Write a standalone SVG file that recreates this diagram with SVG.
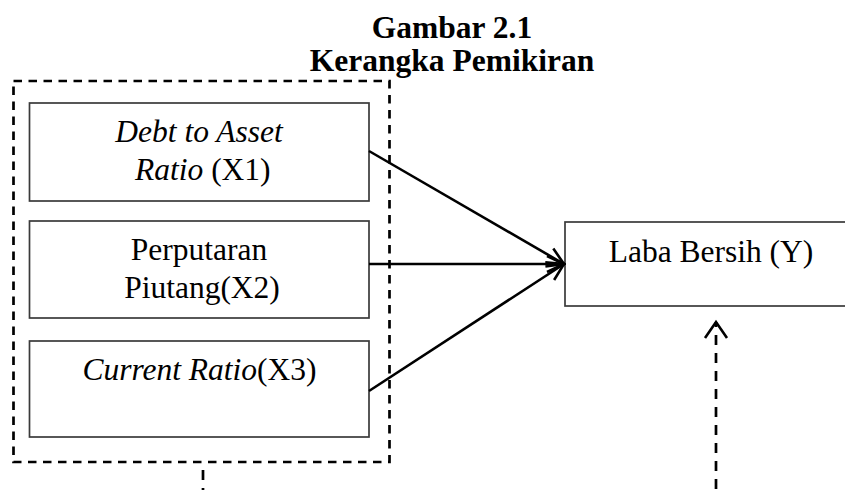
<svg xmlns="http://www.w3.org/2000/svg" width="845" height="490" viewBox="0 0 845 490">
<style>
.t{font-family:"Liberation Serif","Times New Roman",serif;font-size:31.5px;fill:#000}
.b{font-weight:bold}
.i{font-style:italic}
.box{fill:#fff;stroke:#3a3a3a;stroke-width:1.7}
.conn{stroke:#000;stroke-width:2.6;fill:none}
.dash{stroke:#000;stroke-width:2.7;fill:none;stroke-dasharray:8.5 6.5}
</style>
<defs>
<marker id="ah" markerUnits="userSpaceOnUse" viewBox="0 0 20 20" markerWidth="20" markerHeight="20" refX="18" refY="10" orient="auto">
<path d="M1,2 L18,10 L1,18" fill="none" stroke="#000" stroke-width="2.6"/>
</marker>
<marker id="ahd" markerUnits="userSpaceOnUse" viewBox="0 0 20 26" markerWidth="20" markerHeight="26" refX="17" refY="13" orient="auto-start-reverse">
<path d="M1,2 L17,13 L1,24" fill="none" stroke="#000" stroke-width="2.6"/>
</marker>
</defs>
<rect width="845" height="490" fill="#fff"/>
<g id="group-x">
<rect x="13.5" y="81" width="376" height="381" class="dash"/>
</g>
<g id="title">
<text class="t b" x="452" y="38" text-anchor="middle">Gambar 2.1</text>
<text class="t b" x="452" y="71" text-anchor="middle">Kerangka Pemikiran</text>
</g>
<g id="x1">
<rect class="box" x="29.5" y="103" width="339.5" height="98"/>
<text class="t" x="199" y="142" text-anchor="middle"><tspan class="i">Debt to Asset</tspan></text>
<text class="t" x="135" y="180"><tspan class="i">Ratio</tspan> (X1)</text>
</g>
<g id="x2">
<rect class="box" x="29.5" y="221" width="339.5" height="97"/>
<text class="t" x="199" y="260" text-anchor="middle">Perputaran</text>
<text class="t" x="202" y="298" text-anchor="middle">Piutang(X2)</text>
</g>
<g id="x3">
<rect class="box" x="29.5" y="341" width="339.5" height="96"/>
<text class="t" x="199.5" y="380" text-anchor="middle"><tspan class="i">Current Ratio</tspan>(X3)</text>
</g>
<g id="y">
<rect class="box" x="565" y="222" width="300" height="84"/>
<text class="t" x="711" y="262" text-anchor="middle">Laba Bersih (Y)</text>
</g>
<g id="connectors">
<line class="conn" x1="369" y1="151" x2="564" y2="264" marker-end="url(#ah)"/>
<line class="conn" x1="369" y1="264" x2="564" y2="264" marker-end="url(#ah)"/>
<line class="conn" x1="369" y1="391" x2="564" y2="264" marker-end="url(#ah)"/>
<line x1="716" y1="322" x2="716" y2="490" stroke="#000" stroke-width="2.7" stroke-dasharray="10 8" stroke-dashoffset="5" marker-start="url(#ahd)"/>
<line x1="203" y1="470" x2="203" y2="490" stroke="#000" stroke-width="2.7" stroke-dasharray="10 8"/>
</g>
</svg>
